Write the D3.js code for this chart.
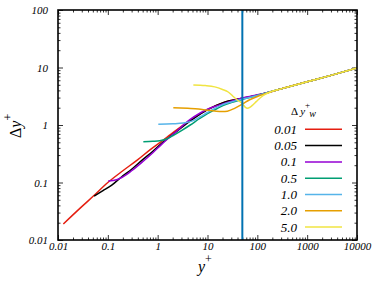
<!DOCTYPE html>
<html>
<head>
<meta charset="utf-8">
<script src="https://cdn.jsdelivr.net/npm/d3@7"></script>
<style>
body{margin:0;background:#fff;}
svg{display:block;}
svg text{font-family:"Liberation Serif","Times New Roman",Times,serif !important;}
</style>
</head>
<body>
<svg width="382" height="285"></svg>
<script>
// values
var labels=["0.01","0.05","0.1","0.5","1.0","2.0","5.0"];
var colors=["#e51e10","#000000","#9400d3","#009e73","#56b4e9","#e69f00","#f0e442"];

var x001=[0.0128,0.03,0.05,0.1,0.2,0.4,0.7,1.2,1.8,3,5,10,20,50,100,150,300,1000,3000,10000];
var y001=[0.019,0.038,0.057,0.1,0.16,0.25,0.37,0.52,0.68,0.95,1.28,1.85,2.42,2.92,3.3,3.6,4.25,5.65,7.3,9.8];

var x005=[0.053,0.08,0.12,0.19,0.3,0.5,0.8,1.2,2,3,5,10,20,50,100,150,300,1000,3000,10000];
var y005=[0.058,0.072,0.09,0.126,0.17,0.25,0.35,0.48,0.68,0.9,1.25,1.85,2.42,2.92,3.3,3.6,4.25,5.65,7.3,9.8];

var x01=[0.102,0.15,0.19,0.3,0.5,0.8,1.2,2.2,4.5,7,10,14,30,50,100,150,300,1000,3000,10000];
var y01=[0.106,0.112,0.122,0.16,0.23,0.33,0.46,0.73,1.25,1.6,1.88,2.1,2.6,2.95,3.35,3.6,4.25,5.65,7.3,9.8];

var x05=[0.516,0.8,1.1,1.5,2,3,4.5,7,10,15,21,30,50,100,150,300,1000,3000,10000];
var y05=[0.513,0.52,0.53,0.57,0.65,0.8,1.0,1.3,1.58,1.9,2.2,2.45,2.78,3.25,3.6,4.25,5.65,7.3,9.8];

var x10=[1.03,2,3.3,5,7,10,15,21,30,50,100,150,300,1000,3000,10000];
var y10=[1.03,1.05,1.08,1.18,1.38,1.65,2.0,2.3,2.52,2.82,3.25,3.6,4.25,5.65,7.3,9.8];

var x20=[2.06,4,6.6,10,15,20,25,35,50,70,112,150,300,1000,3000,10000];
var y20=[2.0,1.95,1.9,1.8,1.73,1.71,1.74,1.95,2.3,2.75,3.25,3.55,4.25,5.65,7.3,9.8];

var x50=[5.2,9,14,20,26,32,39,50,57,63,72,82,95,130,180,300,1000,3000,10000];
var y50=[4.97,4.85,4.6,4.15,3.75,3.2,2.75,2.35,2.05,1.96,2.05,2.25,2.55,3.25,3.75,4.25,5.65,7.3,9.8];

var xsAll=[x001,x005,x01,x05,x10,x20,x50];
var ysAll=[y001,y005,y01,y05,y10,y20,y50];

var xMajor=[0.01,0.1,1,10,100,1000,10000];
var yMajor=[0.01,0.1,1,10,100];
var vline=50;

function minors(major){
  var out=[];
  for(var i=0;i<major.length-1;i++){
    for(var k=2;k<=9;k++) out.push(major[i]*k);
  }
  return out;
}

function main()
{
var svg=d3.select("svg");
var L=58,R=357,T=10,B=240;
var serif="Liberation Serif, Times New Roman, serif";

var x=d3.scaleLog().domain([0.01,10000]).range([L,R]);
var y=d3.scaleLog().domain([0.01,100]).range([B,T]);

var fmt=function(d){return String(d);};

// major + minor ticks on all four sides, pointing inwards
function tickAxis(axis,vals,size,tr,withLabels,pad){
  var g=svg.append("g").attr("transform",tr)
    .call(axis.tickValues(vals).tickSize(size).tickSizeOuter(0).tickPadding(pad)
      .tickFormat(withLabels?fmt:""));
  g.attr("font-family",serif);
  g.select(".domain").remove();
  g.selectAll(".tick line").attr("stroke","#333");
  g.selectAll("text").attr("font-size","11px").attr("font-style","italic").attr("fill","#000");
  return g;
}
tickAxis(d3.axisBottom(x),xMajor,-5,"translate(0,"+B+")",true,2);
tickAxis(d3.axisBottom(x),minors(xMajor),-2.5,"translate(0,"+B+")",false,0);
tickAxis(d3.axisTop(x),xMajor,-5,"translate(0,"+T+")",false,0);
tickAxis(d3.axisTop(x),minors(xMajor),-2.5,"translate(0,"+T+")",false,0);
tickAxis(d3.axisLeft(y),yMajor,-5,"translate("+L+",0)",true,10);
tickAxis(d3.axisLeft(y),minors(yMajor),-2.5,"translate("+L+",0)",false,0);
tickAxis(d3.axisRight(y),yMajor,-5,"translate("+R+",0)",false,0);
tickAxis(d3.axisRight(y),minors(yMajor),-2.5,"translate("+R+",0)",false,0);

svg.append("defs").append("clipPath").attr("id","clip")
  .append("rect").attr("x",L).attr("y",T).attr("width",R-L).attr("height",B-T);

var line=d3.line()
  .x(function(d){return x(d[0]);})
  .y(function(d){return y(d[1]);})
  .curve(d3.curveMonotoneX);

// plotted in legend order, later series on top
var plot=svg.append("g").attr("clip-path","url(#clip)");
for(var i=0;i<xsAll.length;i++){
  var pts=xsAll[i].map(function(v,j){return [v,ysAll[i][j]];});
  plot.append("path").datum(pts)
    .attr("fill","none")
    .attr("stroke",colors[i])
    .attr("stroke-width",1.5)
    .attr("d",line);
}

// vertical marker
plot.append("line")
  .attr("x1",x(vline)).attr("x2",x(vline))
  .attr("y1",T).attr("y2",B)
  .attr("stroke","#0072b2").attr("stroke-width",2);

// frame
svg.append("rect").attr("x",L).attr("y",T).attr("width",R-L).attr("height",B-T)
  .attr("fill","none").attr("stroke","#000").attr("stroke-width",1.6);

// axis titles
var xt=svg.append("text").attr("x",198).attr("y",272).attr("font-size","16px");
xt.append("tspan").attr("font-style","italic").text("y");
xt.append("tspan").attr("dy","-9").attr("font-size","12px").text("+");

var yt=svg.append("text").attr("transform","translate(21,138) rotate(-90)").attr("font-size","16px");
yt.append("tspan").text("Δ");
yt.append("tspan").attr("font-style","italic").text("y");
yt.append("tspan").attr("dy","-9").attr("font-size","12px").text("+");

// legend
var lt=svg.append("text").attr("x",291).attr("y",114.5).attr("font-size","11px");
lt.append("tspan").text("Δ ");
lt.append("tspan").attr("font-style","italic").text("y");
lt.append("tspan").attr("dy","-7").attr("font-size","9px").text("+");
lt.append("tspan").attr("dx","-1").attr("dy","9").attr("font-size","10px").attr("font-style","italic").text("w");

var leg=svg.append("g");
labels.forEach(function(lab,i){
  var yy=129.3+i*16.3;
  leg.append("text").attr("x",297).attr("y",yy).attr("dy","0.35em")
    .attr("text-anchor","end").attr("font-size","13px").attr("font-style","italic").text(lab);
  leg.append("line").attr("x1",305).attr("x2",342).attr("y1",yy).attr("y2",yy)
    .attr("stroke",colors[i]).attr("stroke-width",1.5);
});
}
main();
</script>
</body>
</html>
